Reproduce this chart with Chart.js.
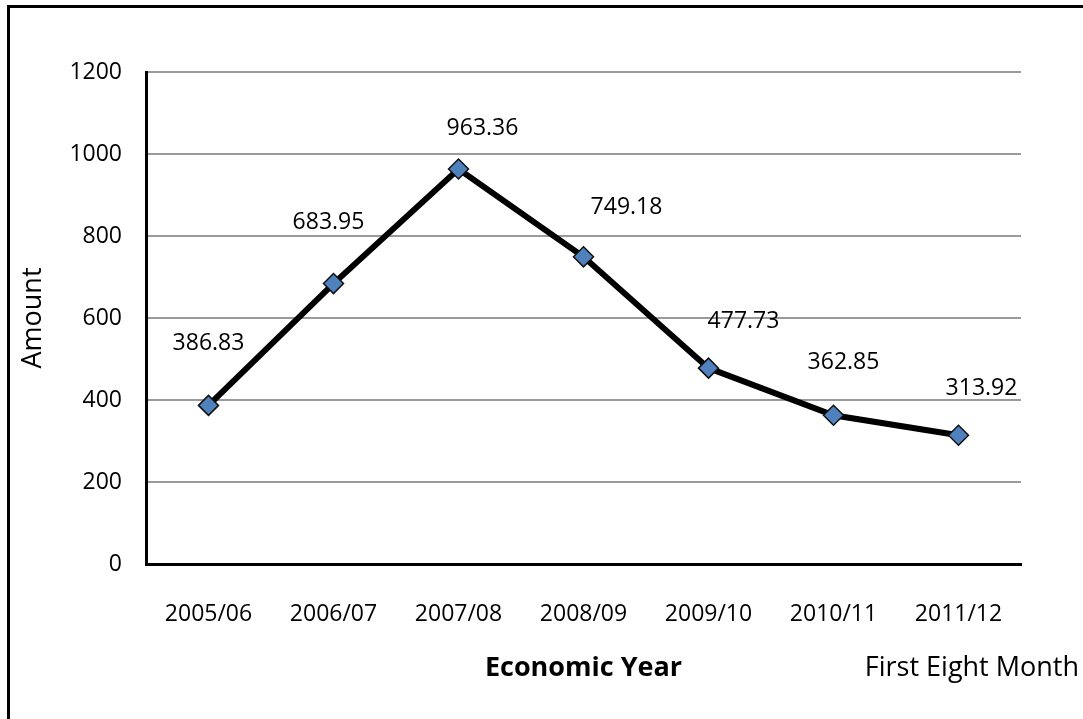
<!DOCTYPE html>
<html>
<head>
<meta charset="utf-8">
<script src="https://cdn.jsdelivr.net/npm/chart.js@4"></script>
<style>
html, body { margin: 0; padding: 0; background: #fff; }
#wrap { position: relative; width: 1083px; height: 719px; overflow: hidden; }
#frame { position: absolute; left: 7px; top: 5px; width: 1200px; height: 800px; border-left: 3px solid #000; border-top: 3px solid #000; }
#c { position: absolute; left: 0; top: 0; }
</style>
</head>
<body>
<div id="wrap"><div id="frame"></div><canvas id="c" width="1083" height="719"></canvas></div>
<script>
// data
const years = ["2005/06", "2006/07", "2007/08", "2008/09", "2009/10", "2010/11", "2011/12"];
const amounts = [386.83, 683.95, 963.36, 749.18, 477.73, 362.85, 313.92];
const yTicks = [0, 200, 400, 600, 800, 1000, 1200];
const yTitle = "Amount";
const xTitle = "Economic Year";
const xNote = "First Eight Month";

// where each value label sits relative to its point (Excel moved some by hand)
const labelShift = [[0, -62], [-5, -61], [24, -41], [43, -49], [35, -47], [10, -53], [23, -47]];

const FONT = "'Open Sans', 'Liberation Sans', sans-serif";

const extras = {
    id: 'extras',
    afterDatasetsDraw(chart) {
        const ctx = chart.ctx, meta = chart.getDatasetMeta(0);
        ctx.save();
        ctx.fillStyle = '#000';
        ctx.font = '23px ' + FONT;
        ctx.textAlign = 'center'; ctx.textBaseline = 'middle';
        meta.data.forEach((p, i) => {
            ctx.fillText(amounts[i].toFixed(2), p.x + labelShift[i][0], p.y + labelShift[i][1]);
        });
        ctx.restore();
    },
    afterDraw(chart) {
        const ctx = chart.ctx, a = chart.chartArea;
        ctx.save();
        ctx.fillStyle = '#000';
        ctx.textBaseline = 'middle';
        // y title
        ctx.translate(33, (a.top + a.bottom) / 2);
        ctx.rotate(-Math.PI / 2);
        ctx.textAlign = 'center';
        ctx.font = '27px ' + FONT;
        ctx.fillText(yTitle, 0, 0);
        ctx.restore();
        ctx.save();
        ctx.fillStyle = '#000'; ctx.textBaseline = 'middle';
        ctx.textAlign = 'center';
        ctx.font = 'bold 27px ' + FONT;
        ctx.fillText(xTitle, (a.left + a.right) / 2, a.bottom + 104);
        ctx.textAlign = 'right';
        ctx.font = '27px ' + FONT;
        ctx.fillText(xNote, chart.width - 4, a.bottom + 104);
        ctx.restore();
    }
};

new Chart(document.getElementById('c'), {
    type: 'line',
    data: {
        labels: years,
        datasets: [{
            data: amounts,
            borderColor: '#000', borderWidth: 6,
            pointStyle: 'rectRot', pointRadius: 10, pointHoverRadius: 10,
            pointBackgroundColor: '#4f81bd', pointBorderColor: '#111', pointBorderWidth: 1.5,
            tension: 0, fill: false
        }]
    },
    options: {
        responsive: false, animation: false, devicePixelRatio: 1,
        layout: { padding: { left: 0, top: 72, right: 62, bottom: 0 } },
        plugins: { legend: { display: false }, tooltip: { enabled: false } },
        scales: {
            x: {
                offset: true,
                grid: { display: false, drawTicks: false },
                border: { display: true, color: '#000', width: 3 },
                ticks: { color: '#000', font: { family: FONT, size: 23 }, padding: 37, maxRotation: 0 },
                afterFit: s => { s.height = 155; }
            },
            y: {
                min: 0, max: 1200,
                afterBuildTicks: s => { s.ticks = yTicks.map(v => ({ value: v })); },
                grid: { color: '#9a9a9a', lineWidth: 2, drawTicks: false },
                border: { display: true, color: '#000', width: 3 },
                ticks: { color: '#000', font: { family: FONT, size: 23 }, padding: 24, callback: v => String(v) },
                afterFit: s => { s.width = 146; }
            }
        }
    },
    plugins: [extras]
});
</script>
</body>
</html>
